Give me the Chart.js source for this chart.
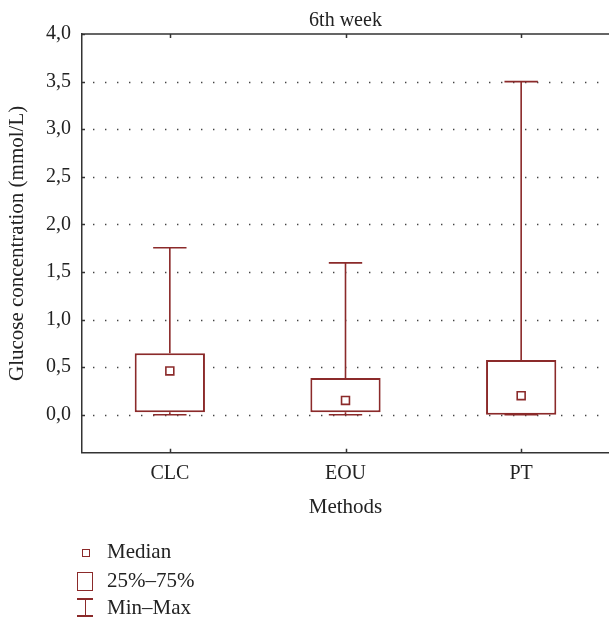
<!DOCTYPE html>
<html>
<head>
<meta charset="utf-8">
<script src="https://cdn.jsdelivr.net/npm/chart.js@4.4.1/dist/chart.umd.min.js"></script>
<style>
  html, body { margin: 0; padding: 0; background: #fff; }
  #wrap { position: relative; width: 609px; height: 618px; overflow: hidden; }
  #chart { position: absolute; left: 0; top: 0; }
  .lg-text { position: absolute; font-family: "Liberation Serif", "Times New Roman", serif; font-size: 21px; color: #222; line-height: 24px; white-space: nowrap; }
  .mk { position: absolute; box-sizing: border-box; }
</style>
</head>
<body>
<div id="wrap">
  <canvas id="chart" width="609" height="618"></canvas>
  <div class="mk" style="left:82px;top:549px;width:8px;height:8px;border:1.5px solid #8b2a2a;"></div>
  <div class="lg-text" style="left:107px;top:539px;">Median</div>
  <div class="mk" style="left:77px;top:572px;width:16px;height:19px;border:1.5px solid #8b2a2a;"></div>
  <div class="lg-text" style="left:107px;top:568px;">25%–75%</div>
  <div class="mk" style="left:77px;top:598px;width:16px;height:1.5px;background:#8b2a2a;"></div>
  <div class="mk" style="left:84.5px;top:598px;width:1.5px;height:18px;background:#8b2a2a;"></div>
  <div class="mk" style="left:77px;top:615px;width:16px;height:1.5px;background:#8b2a2a;"></div>
  <div class="lg-text" style="left:107px;top:595px;">Min–Max</div>
</div>
<script>
// Glucose concentration per method, 6th week
const categories = ['CLC', 'EOU', 'PT'];
const minVals    = [0.0,   0.0,   0.0];
const q1Vals     = [0.025, 0.025, 0.0];
const medianVals = [0.46,  0.15,  0.2];
const q3Vals     = [0.645, 0.385, 0.575];
const maxVals    = [1.755, 1.595, 3.5];
const yTickValues = [0, 0.5, 1, 1.5, 2, 2.5, 3, 3.5, 4];

const RED = '#8b2a2a';
const AXIS = '#333333';
const TEXT = '#222222';
const FONT = '"Liberation Serif", "Times New Roman", serif';

const fmt = v => Number(v).toFixed(1).replace('.', ',');

// dotted horizontal grid + min/max whiskers, drawn beneath the boxes
const underlay = {
  id: 'underlay',
  beforeDatasetsDraw(chart) {
    const { ctx, chartArea: a, scales: { x, y } } = chart;
    ctx.save();
    ctx.strokeStyle = '#444';
    ctx.lineWidth = 1.4;
    ctx.setLineDash([1.4, 10.6]);
    yTickValues.forEach(v => {
      if (v >= 4) return;
      const py = Math.round(y.getPixelForValue(v)) + 0.5;
      ctx.beginPath();
      ctx.moveTo(a.left + 11, py);
      ctx.lineTo(a.right, py);
      ctx.stroke();
    });
    ctx.setLineDash([]);
    ctx.strokeStyle = RED;
    ctx.lineWidth = 1.6;
    const slot = a.width / categories.length;
    const cap = slot * 0.095;
    categories.forEach((c, i) => {
      const px = x.getPixelForValue(i);
      const pMax = y.getPixelForValue(maxVals[i]);
      const pMin = y.getPixelForValue(minVals[i]);
      const p3 = y.getPixelForValue(q3Vals[i]);
      const p1 = y.getPixelForValue(q1Vals[i]);
      ctx.beginPath();
      ctx.moveTo(px, p3); ctx.lineTo(px, pMax);
      ctx.moveTo(px - cap, pMax); ctx.lineTo(px + cap, pMax);
      ctx.moveTo(px, p1); ctx.lineTo(px, pMin);
      ctx.moveTo(px - cap, pMin); ctx.lineTo(px + cap, pMin);
      ctx.stroke();
    });
    ctx.restore();
  }
};

// top frame line and inner tick marks
const frame = {
  id: 'frame',
  afterDraw(chart) {
    const { ctx, chartArea: a, scales: { x, y } } = chart;
    ctx.save();
    ctx.strokeStyle = AXIS;
    ctx.lineWidth = 1.5;
    ctx.beginPath();
    ctx.moveTo(a.left, a.top);
    ctx.lineTo(a.right, a.top);
    categories.forEach((c, i) => {
      const px = Math.round(x.getPixelForValue(i)) + 0.5;
      ctx.moveTo(px, a.top); ctx.lineTo(px, a.top + 4);
      ctx.moveTo(px, a.bottom); ctx.lineTo(px, a.bottom - 4);
    });
    yTickValues.forEach(v => {
      const py = Math.round(y.getPixelForValue(v)) + 0.5;
      ctx.moveTo(a.left, py); ctx.lineTo(a.left + 3, py);
    });
    ctx.stroke();
    ctx.restore();
  }
};

new Chart(document.getElementById('chart'), {
  data: {
    labels: categories,
    datasets: [
      {
        type: 'bar',
        label: '25%–75%',
        data: categories.map((c, i) => [q1Vals[i], q3Vals[i]]),
        backgroundColor: '#ffffff',
        borderColor: RED,
        borderWidth: 2,
        borderSkipped: false,
        barPercentage: 0.4,
        categoryPercentage: 1.0,
        order: 2
      },
      {
        type: 'line',
        label: 'Median',
        data: medianVals,
        showLine: false,
        pointStyle: 'rect',
        pointRadius: 5.6,
        pointBorderWidth: 1.6,
        pointBorderColor: RED,
        pointBackgroundColor: '#ffffff',
        order: 1
      }
    ]
  },
  options: {
    responsive: false,
    animation: false,
    devicePixelRatio: 1,
    events: [],
    layout: { autoPadding: false, padding: { left: 0, right: 0, top: 0, bottom: 98 } },
    plugins: {
      legend: { display: false },
      tooltip: { enabled: false },
      title: {
        display: true,
        text: '6th week',
        fullSize: false,
        color: TEXT,
        font: { family: FONT, size: 20, weight: 'normal' },
        padding: { top: 9, bottom: 1 }
      }
    },
    scales: {
      x: {
        type: 'category',
        offset: true,
        grid: { display: false, drawTicks: false },
        border: { display: true, color: AXIS, width: 1.5 },
        ticks: { color: TEXT, font: { family: FONT, size: 20 }, padding: 9 },
        title: {
          display: true,
          text: 'Methods',
          color: TEXT,
          font: { family: FONT, size: 21 },
          padding: { top: 0, bottom: 0 }
        }
      },
      y: {
        type: 'linear',
        min: -0.4,
        max: 4.0,
        afterBuildTicks(scale) {
          scale.ticks = yTickValues.map(v => ({ value: v }));
        },
        afterFit(scale) { scale.width = 82; },
        grid: { display: false, drawTicks: false },
        border: { display: true, color: AXIS, width: 1.5 },
        ticks: { color: TEXT, font: { family: FONT, size: 20 }, padding: 11, callback: v => fmt(v) },
        title: {
          display: true,
          text: 'Glucose concentration (mmol/L)',
          color: TEXT,
          font: { family: FONT, size: 21 },
          padding: { top: 4.5, bottom: 0 }
        }
      }
    }
  },
  plugins: [underlay, frame]
});
</script>
</body>
</html>
